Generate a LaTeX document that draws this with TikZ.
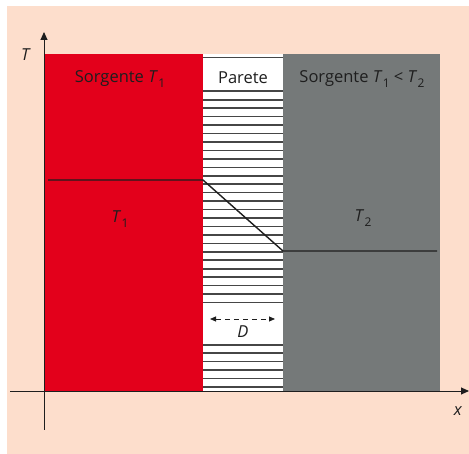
\documentclass[tikz,border=0pt]{standalone}
\usepackage{xcolor}
\usepackage{fontspec}
\setmainfont{Open Sans}
\usepackage{tikz}
\usetikzlibrary{arrows.meta}
\definecolor{paper}{RGB}{253,222,204}
\definecolor{hot}{RGB}{227,0,27}
\definecolor{cold}{RGB}{117,121,121}
\definecolor{stripe}{RGB}{70,70,70}
\definecolor{ink}{RGB}{30,30,30}
\newcommand{\Tsub}[1]{\textit{T}\kern.3pt\raisebox{-.5ex}{\fontsize{12}{12}\selectfont #1}}

\begin{document}
\begin{tikzpicture}[x=1pt, y=-1pt, font=\fontsize{16.5}{18}\selectfont,
  lab/.style={text=ink, inner sep=1pt},
  axis/.style={ink, line width=0.9pt, -{Triangle[length=8pt,width=7pt]}},
  hole/.style={fill=white, inner sep=0pt, minimum width=80pt}]
\useasboundingbox (0,0) rectangle (469,454);
\fill[paper] (7,6) rectangle (469,454);

% the two sources and the wall
\fill[hot] (44,54) rectangle (203,391);
\fill[cold] (283,54) rectangle (440,391);
\fill[white] (203,54) rectangle (283,391);
\foreach \i in {0,...,39}
  \draw[stripe, line width=1.6pt] (203,{57.5+\i*8.45}) -- (283,{57.5+\i*8.45});

\node[hole, minimum height=25pt] (wallbox) at (243,78) {};
\node[hole, minimum height=32pt] (dbox) at (243,326) {};

% temperature profile
\coordinate (p0) at (48,180);
\coordinate (p1) at (203,180);
\coordinate (p2) at (283,251);
\coordinate (p3) at (437,251);
\draw[ink, line width=1.4pt] (p0) -- (p1) -- (p2) -- (p3);

% axes
\coordinate (xa) at (10,391);
\coordinate (xb) at (469,391);
\coordinate (ya) at (44,430);
\coordinate (yb) at (44,32);
\draw[axis] (xa) -- (xb);
\draw[axis] (ya) -- (yb);
\node[lab] (tlab) at (26,55) {\textit{T}};
\node[lab] (xlab) at (458,411) {\textit{x}};

% labels
\node[lab] (src1) at (120,79) {Sorgente \Tsub{1}};
\node[lab] (wall) at (wallbox) {Parete};
\node[lab] (src2) at (362,79) {Sorgente \Tsub{1} < \Tsub{2}};
\node[lab] (t1) at (120,219) {\Tsub{1}};
\node[lab] (t2) at (363,218) {\Tsub{2}};

% thickness D
\coordinate (dl) at (210,319);
\coordinate (dr) at (275,319);
\draw[ink, line width=0.8pt, dash pattern=on 5pt off 4pt,
  {Triangle[length=6pt,width=5pt]}-{Triangle[length=6pt,width=5pt]}] (dl) -- (dr);
\node[lab] (dlab) at (243,332) {\textit{D}};
\end{tikzpicture}
\end{document}
